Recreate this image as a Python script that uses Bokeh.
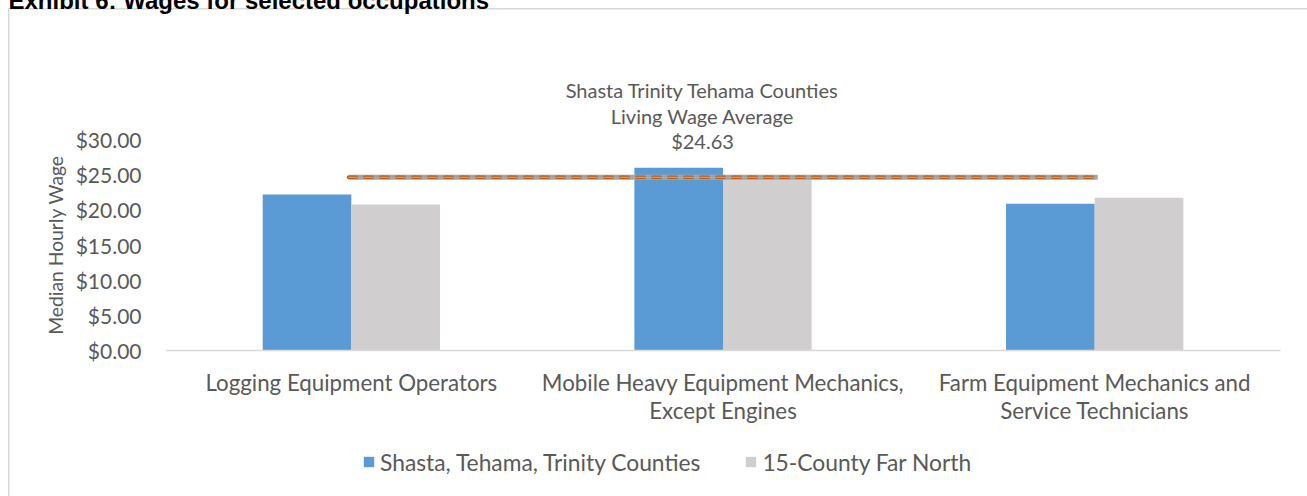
from bokeh.plotting import figure
from bokeh.models import (Range1d, FixedTicker, NumeralTickFormatter, Label,
                          Legend, LegendItem, ColumnDataSource)
from bokeh.embed import file_html
from bokeh.resources import INLINE

# ---- data ----
title_text = "Exhibit 6: Wages for selected occupations"
category_lines = [["Logging Equipment Operators"],
                  ["Mobile Heavy Equipment Mechanics,", "Except Engines"],
                  ["Farm Equipment Mechanics and", "Service Technicians"]]
series_names = ["Shasta, Tehama, Trinity Counties", "15-County Far North"]
shasta_wage = [22.18, 25.98, 20.86]
far_north_wage = [20.76, 24.40, 21.71]
living_wage = 24.63
living_wage_text = ["Shasta Trinity Tehama Counties", "Living Wage Average", "$24.63"]
y_ticks = [0, 5, 10, 15, 20, 25, 30]

BLUE = "#5B9BD5"
GRAY = "#D0CECE"
TXT = "#595959"
FONT = "Lato"

# geometry: canvas is shifted up by M px so the title is cut at the top
M = 30
W, H = 1307, 496 + M
FL, FB = 165, 350          # image x of plot-area left, image y of zero line
FT = 13                    # image y of frame top
FBOT = 476                 # image y of frame bottom
PX_X = 371.67               # px per category
PX_Y = 7.033                # px per dollar

def dx(px):
    return (px - FL) / PX_X
def dy(py):
    return (FB - py) / PX_Y

p = figure(width=W, height=H, output_backend="svg", toolbar_location=None,
           x_range=Range1d(0, dx(W)),
           y_range=Range1d(dy(FBOT), dy(FT)),
           min_border_left=FL, min_border_right=0,
           min_border_top=FT + M, min_border_bottom=496 - FBOT,
           margin=(-M, 0, 0, 0),
           styles={"background-color": "white",
                   "background-image": "linear-gradient(#D9D9D9,#D9D9D9),linear-gradient(#D9D9D9,#D9D9D9)",
                   "background-size": "100% 1.5px, 1.5px 100%",
                   "background-repeat": "no-repeat",
                   "background-position": f"8px {8 + M}px, 8px {8 + M}px"})
p.title.text = title_text
p.title.align = "left"
p.title.offset = -(FL - 8)
p.title.standoff = 0
p.title.text_font = "Liberation Sans"
p.title.text_font_size = "24px"
p.title.text_font_style = "bold"
p.title.text_color = "black"
p.xaxis.visible = False
p.outline_line_color = None
p.grid.visible = False
p.background_fill_alpha = 0
p.border_fill_alpha = 0

n = len(category_lines)
centers = [i + 0.5 for i in range(n)]
bw = 0.2385
src = ColumnDataSource(dict(
    xb=[c - bw / 2 for c in centers], xg=[c + bw / 2 for c in centers],
    shasta=shasta_wage, far=far_north_wage))
r1 = p.vbar(x="xb", top="shasta", bottom=0, width=bw, source=src,
            fill_color=BLUE, line_color=None)
r2 = p.vbar(x="xg", top="far", bottom=0, width=bw, source=src,
            fill_color=GRAY, line_color=None)

# baseline (category axis line)
p.segment(x0=[0], y0=[0], x1=[3], y1=[0], line_color="#D9D9D9", line_width=1.5)

# living wage line
lx = [centers[0] - 0.008, centers[-1] + 0.008]
ly = [living_wage, living_wage]
p.line(lx, ly, line_color="#A5A5A5", line_width=5)
p.line(lx, ly, line_color="#C55A11", line_width=3.5, line_dash="8 8",
       line_cap="round")
p.line(lx, ly, line_color="#A5A5A5", line_width=1.2)

# y axis
yax = p.yaxis[0]
yax.ticker = FixedTicker(ticks=y_ticks)
yax.formatter = NumeralTickFormatter(format="$0.00")
yax.axis_line_color = None
yax.major_tick_line_color = None
yax.major_tick_out = 0
yax.major_tick_in = 0
yax.minor_tick_line_color = None
yax.minor_tick_out = 0
yax.major_label_standoff = 24
yax.major_label_text_font = FONT
yax.major_label_text_font_size = "21px"
yax.major_label_text_color = TXT
yax.axis_label = "Median Hourly Wage"
yax.axis_label_text_font = FONT
yax.axis_label_text_font_size = "19.3px"
yax.axis_label_text_font_style = "normal"
yax.axis_label_text_color = TXT
yax.axis_label_standoff = 6

# category labels
for c, lines in zip(centers, category_lines):
    for k, t in enumerate(lines):
        p.add_layout(Label(x=c, y=dy(382 + 28 * k), text=t, text_align="center",
                           text_baseline="middle", text_font=FONT,
                           text_font_size="22.3px", text_color=TXT))

# living wage annotation
for t, py in zip(living_wage_text, [89, 115, 140]):
    p.add_layout(Label(x=dx(702), y=dy(py), text=t, text_align="center",
                       text_baseline="middle", text_font=FONT,
                       text_font_size="20px", text_color=TXT))

# legend
legend = Legend(items=[LegendItem(label=series_names[0], renderers=[r1]),
                       LegendItem(label=series_names[1], renderers=[r2])],
                orientation="horizontal",
                location=(362 - FL, FBOT - 475.5),
                glyph_width=13, glyph_height=13, label_standoff=5,
                label_height=20, spacing=44, padding=0, margin=0,
                label_text_font=FONT, label_text_font_size="22.8px",
                label_text_color=TXT, border_line_color=None,
                background_fill_alpha=0)
p.add_layout(legend, "center")

open("out.html", "w").write(file_html(p, INLINE))
